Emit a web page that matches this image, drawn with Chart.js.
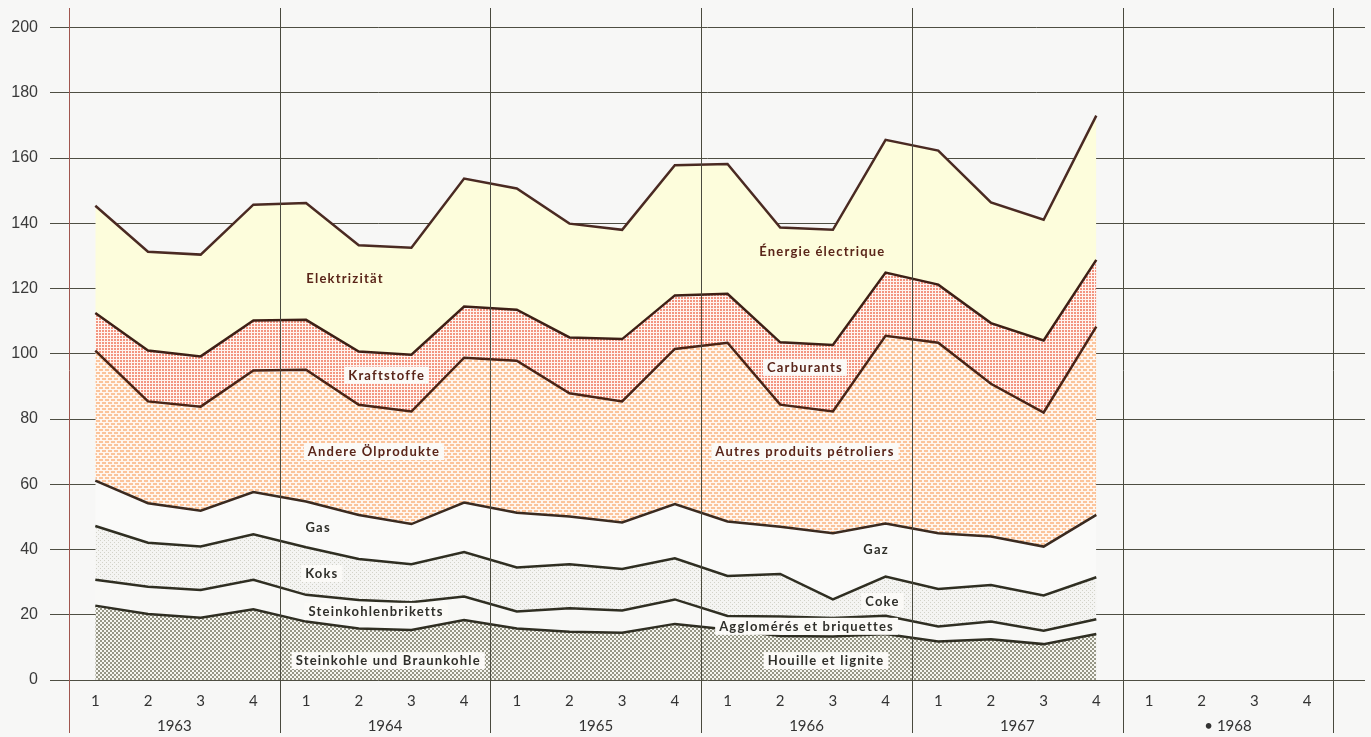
<!DOCTYPE html>
<html>
<head>
<meta charset="utf-8">
<script src="https://cdn.jsdelivr.net/npm/chart.js@4.4.1/dist/chart.umd.min.js"></script>
<style>
    html, body { margin: 0; padding: 0; background: #f7f7f6; }
    #wrap { width: 1371px; height: 737px; }
</style>
</head>
<body>
<div id="wrap"><canvas id="chart" width="1371" height="737"></canvas></div>
<script>
// Data (quarters 1963 Q1 .. 1967 Q4, 1968 left empty)
const years = ['1963', '1964', '1965', '1966', '1967', '• 1968'];
const quarterLabels = ['1', '2', '3', '4'];
const yTickValues = [0, 20, 40, 60, 80, 100, 120, 140, 160, 180, 200];

const steinkohle = [22.8, 20.2, 19.1, 21.7, 17.9, 15.8, 15.3, 18.4, 15.8, 14.8, 14.5, 17.2, 15.5, 13.5, 13.3, 14.1, 11.8, 12.5, 11.0, 14.1];
const briketts   = [7.9, 8.4, 8.5, 9.0, 8.2, 8.7, 8.5, 7.2, 5.2, 7.2, 6.8, 7.5, 4.1, 6.0, 5.7, 5.6, 4.6, 5.4, 4.1, 4.5];
const koks       = [16.5, 13.5, 13.3, 14.0, 14.6, 12.6, 11.7, 13.6, 13.5, 13.5, 12.7, 12.6, 12.3, 13.0, 5.7, 12.0, 11.5, 11.2, 10.8, 12.9];
const gas        = [13.9, 12.1, 11.0, 12.9, 14.0, 13.5, 12.3, 15.2, 16.8, 14.6, 14.3, 16.6, 16.7, 14.5, 20.3, 16.3, 17.1, 14.9, 15.0, 19.1];
const andereOel  = [39.9, 31.2, 31.9, 37.3, 40.4, 33.8, 34.5, 44.4, 46.6, 37.8, 37.1, 47.6, 54.8, 37.4, 37.3, 57.5, 58.4, 46.8, 41.1, 57.7];
const kraftstoffe = [11.5, 15.6, 15.4, 15.3, 15.3, 16.3, 17.4, 15.7, 15.6, 17.1, 19.1, 16.4, 15.0, 19.1, 20.4, 19.4, 17.8, 18.6, 22.1, 20.5];
const elektrizitaet = [32.9, 30.3, 31.2, 35.5, 35.8, 32.6, 32.8, 39.2, 37.2, 34.9, 33.5, 39.9, 39.8, 35.2, 35.3, 40.7, 41.1, 37.0, 37.0, 44.2];

// text labels in the areas: [text, quarter index, value, box]
const areaLabels = [
    ['Elektrizität', 4.74, 123.3, false],
    ['Énergie électrique', 13.8, 131.6, false],
    ['Kraftstoffe', 5.53, 93.6, true],
    ['Carburants', 13.47, 96.0, true],
    ['Andere Ölprodukte', 5.29, 70.2, true],
    ['Autres produits pétroliers', 13.47, 70.2, true],
    ['Gas', 4.23, 46.9, false],
    ['Gaz', 14.82, 40.2, false],
    ['Koks', 4.3, 32.8, true],
    ['Coke', 14.94, 24.2, true],
    ['Steinkohlenbriketts', 5.33, 21.2, true],
    ['Agglomérés et briquettes', 13.5, 16.6, true],
    ['Steinkohle und Braunkohle', 5.56, 6.1, true],
    ['Houille et lignite', 13.87, 6.1, true]
];

const nQuarters = years.length * 4;

// Fill patterns
function makePattern(w, h, bg, draw) {
    const c = document.createElement('canvas');
    c.width = w; c.height = h;
    const g = c.getContext('2d');
    g.fillStyle = bg;
    g.fillRect(0, 0, w, h);
    draw(g);
    return g.createPattern(c, 'repeat');
}

const patKraft = makePattern(3, 3, '#fff4ef', g => {
    g.fillStyle = '#f39580';
    g.fillRect(0, 0, 2, 2);
});
const patAndere = makePattern(6, 6, '#fff6ef', g => {
    g.fillStyle = '#fbc39a';
    g.fillRect(0, 0, 4, 2);
    g.fillRect(3, 3, 3, 2);
    g.fillRect(0, 3, 1, 2);
});
const patKohle = makePattern(4, 4, '#f6f6f0', g => {
    g.fillStyle = '#969686';
    g.fillRect(0, 0, 2, 2);
    g.fillRect(2, 2, 2, 2);
});
const patKoks = makePattern(4, 4, '#f4f4f2', g => {
    g.fillStyle = '#d2d2c8';
    g.fillRect(0, 0, 1, 1);
    g.fillRect(2, 2, 1, 1);
});

function toPoints(arr) {
    return arr.map((v, i) => ({ x: i, y: v }));
}

function series(label, arr, bg, fill, line) {
    return {
        label: label,
        data: toPoints(arr),
        backgroundColor: bg,
        borderColor: line,
        borderWidth: 2.5,
        pointRadius: 0,
        tension: 0,
        fill: fill
    };
}

// vertical year lines and area labels
const decoPlugin = {
    id: 'deco',
    afterDatasetsDraw(chart) {
        const ctx = chart.ctx;
        const xs = chart.scales.x;
        const ys = chart.scales.y;
        ctx.save();
        for (let k = 0; k <= years.length; k++) {
            const px = Math.round(xs.getPixelForValue(k * 4 - 0.5)) + 0.5;
            ctx.strokeStyle = k === 0 ? '#a0564f' : '#4a4a3e';
            ctx.lineWidth = 1;
            ctx.beginPath();
            ctx.moveTo(px, chart.chartArea.top);
            ctx.lineTo(px, 733);
            ctx.stroke();
        }

        ctx.font = 'bold 13px Lato';
        ctx.letterSpacing = '1.2px';
        ctx.textAlign = 'center';
        ctx.textBaseline = 'middle';
        areaLabels.forEach(([text, qx, val, box], i) => {
            const px = xs.getPixelForValue(qx);
            const py = ys.getPixelForValue(val);
            const w = ctx.measureText(text).width;
            if (box) {
                ctx.fillStyle = '#fbfaf7';
                ctx.fillRect(px - w / 2 - 4, py - 8, w + 8, 17);
            }
            ctx.fillStyle = i < 6 ? '#5a2519' : '#2f2f2a';
            ctx.fillText(text, px, py + 1);
        });
        ctx.restore();
    }
};

const ctx = document.getElementById('chart').getContext('2d');
new Chart(ctx, {
    type: 'line',
    data: {
        datasets: [
            series('Steinkohle und Braunkohle', steinkohle, patKohle, 'origin', '#2f2e22'),
            series('Steinkohlenbriketts', briketts, '#f8f8f6', '-1', '#2f2e22'),
            series('Koks', koks, patKoks, '-1', '#2f2e22'),
            series('Gas', gas, '#fafaf9', '-1', '#3a2a20'),
            series('Andere Ölprodukte', andereOel, patAndere, '-1', '#4a2416'),
            series('Kraftstoffe', kraftstoffe, patKraft, '-1', '#3e2016'),
            series('Elektrizität', elektrizitaet, '#fdfddc', '-1', '#4a2a22')
        ]
    },
    options: {
        responsive: false,
        animation: false,
        layout: { padding: { left: 0, right: 6, top: 8, bottom: 3 } },
        plugins: {
            legend: { display: false },
            tooltip: { enabled: false }
        },
        scales: {
            y: {
                stacked: true,
                min: 0,
                max: 206,
                afterBuildTicks: a => { a.ticks = yTickValues.map(v => ({ value: v })); },
                afterFit: a => { a.width = 50; a.paddingTop = 0; a.paddingBottom = 0; },
                border: { display: false },
                grid: { color: '#4e4e42', lineWidth: 1, drawTicks: false },
                ticks: {
                    padding: 12,
                    color: '#3a3a3a',
                    font: { family: 'Liberation Sans', size: 16 }
                }
            },
            x: {
                type: 'linear',
                min: -0.86,
                max: 24.1,
                afterBuildTicks: a => {
                    const t = [];
                    for (let i = 0; i < nQuarters; i++) t.push({ value: i });
                    a.ticks = t;
                },
                afterFit: a => { a.height = 28; a.paddingLeft = 0; a.paddingRight = 0; },
                border: { display: false },
                grid: { display: false, drawTicks: false },
                ticks: {
                    padding: 12,
                    color: '#333',
                    font: { family: 'Lato', size: 15 },
                    maxRotation: 0,
                    autoSkip: false,
                    callback: v => quarterLabels[Math.round(v) % 4]
                }
            },
            x2: {
                type: 'linear',
                position: 'bottom',
                min: -0.86,
                max: 24.1,
                afterBuildTicks: a => { a.ticks = years.map((y, k) => ({ value: k * 4 + 1.5 })); },
                afterFit: a => { a.height = 26; a.paddingLeft = 0; a.paddingRight = 0; },
                border: { display: false },
                grid: { display: false, drawTicks: false },
                ticks: {
                    padding: 9,
                    color: '#333',
                    font: { family: 'Lato', size: 15 },
                    maxRotation: 0,
                    autoSkip: false,
                    callback: v => years[Math.round((v - 1.5) / 4)]
                }
            }
        }
    },
    plugins: [decoPlugin]
});
</script>
</body>
</html>
